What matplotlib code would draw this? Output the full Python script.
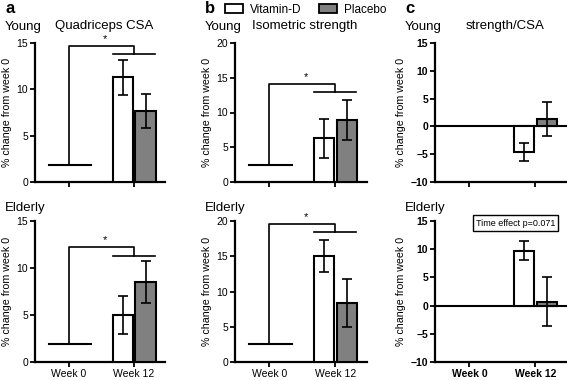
import matplotlib.pyplot as plt
from matplotlib.patches import Patch

plt.rcParams['font.family'] = ['Liberation Sans', 'DejaVu Sans']

# x positions: week 0 = 0, week 12 = 1
week_labels = ["Week 0", "Week 12"]
groups = ["Vitamin-D", "Placebo"]
row_names = ["Young", "Elderly"]
titles = ["Quadriceps CSA", "Isometric strength", "strength/CSA"]
letters = ["a", "b", "c"]

# % change from week 0 at week 12 (vitamin-D, placebo) and error bars
csa_young = [11.3, 7.7]
csa_young_err = [1.9, 1.85]
csa_old = [5.0, 8.5]
csa_old_err = [2.0, 2.2]
str_young = [6.3, 8.9]
str_young_err = [2.8, 2.9]
str_old = [15.0, 8.4]
str_old_err = [2.3, 3.4]
ratio_young = [-4.6, 1.4]
ratio_young_err = [1.65, 3.05]
ratio_old = [9.7, 0.7]
ratio_old_err = [1.7, 4.4]

# significance brackets: (week 0 level, top, lower bar)
brackets = {
    (0, 0): (1.8, 14.7, 13.8),
    (1, 0): (1.9, 12.2, 11.3),
    (0, 1): (2.5, 14.1, 13.0),
    (1, 1): (2.5, 19.6, 18.4),
}

values = [[csa_young, str_young, ratio_young], [csa_old, str_old, ratio_old]]
errors = [[csa_young_err, str_young_err, ratio_young_err],
          [csa_old_err, str_old_err, ratio_old_err]]
ylims = [(0, 15), (0, 20), (-10, 15)]
yticks = [[0, 5, 10, 15], [0, 5, 10, 15, 20], [-10, -5, 0, 5, 10, 15]]

W, H = 567, 380
fig = plt.figure(figsize=(W / 100, H / 100), dpi=100)

lefts = [35, 235, 435]
widths = [130, 132, 132]
rows_px = [(43, 182), (221, 362)]
name_base = [30, 211]   # baseline pixel of row label / title

bw = 0.31
offs = [-0.17, 0.18]
colors = ["white", "#808080"]

for r in range(2):
    top, bot = rows_px[r]
    hpx = bot - top
    for c in range(3):
        ax = fig.add_axes([lefts[c] / W, (H - bot) / H, widths[c] / W, hpx / H])
        v = values[r][c]
        e = errors[r][c]
        for k in range(2):
            ax.bar(1 + offs[k], v[k], width=bw, color=colors[k], edgecolor="black",
                   linewidth=1.5, zorder=3)
            ax.errorbar(1 + offs[k], v[k], yerr=e[k], color="black", capsize=3.5,
                        elinewidth=1.2, capthick=1.2, zorder=4)
        ax.set_xlim(-0.52, 1.48)
        ax.set_ylim(*ylims[c])
        ax.set_yticks(yticks[c])
        ax.set_xticks([0, 1])
        if r == 1:
            ax.set_xticklabels(week_labels, fontweight="bold" if c == 2 else "normal")
        else:
            ax.set_xticklabels([])
        for s in ["top", "right"]:
            ax.spines[s].set_visible(False)
        ax.spines["left"].set_linewidth(1.6)
        ax.spines["bottom"].set_linewidth(1.6)
        ax.tick_params(width=1.3, length=3.5, labelsize=7.5, pad=1.5)
        if c == 2:
            for t in ax.get_yticklabels():
                t.set_fontweight("bold")
            ax.axhline(0, color="black", lw=1.5, xmin=0, xmax=1.05, clip_on=False, zorder=2)
        ax.set_ylabel("% change from week 0", fontsize=7.7, labelpad=3)

        if (r, c) in brackets:
            lvl, ytop, ylow = brackets[(r, c)]
            ax.plot([-0.31, 0.34], [lvl, lvl], color="black", lw=1.5, clip_on=False)
            ax.plot([0, 0, 1, 1], [lvl, ytop, ytop, ylow], color="black", lw=1.2,
                    clip_on=False)
            ax.plot([0.68, 1.32], [ylow, ylow], color="black", lw=1.2, clip_on=False)
            ax.text(0.55, ytop + (ylims[c][1] - ylims[c][0]) * 0.015, "*", ha="center",
                    va="bottom", fontsize=8)

        yb = 1 + (top - name_base[r]) / hpx
        ax.text(-30 / widths[c], yb, row_names[r], transform=ax.transAxes,
                fontsize=9.5, ha="left", va="baseline")
        if r == 0:
            ax.text(0.53, 1 + (top - 29) / hpx, titles[c], transform=ax.transAxes,
                    fontsize=9.5, ha="center", va="baseline")
            ax.text(-30 / widths[c], 1 + (top - 13) / hpx, letters[c],
                    transform=ax.transAxes, fontsize=12, fontweight="bold",
                    ha="left", va="baseline")

        if (r, c) == (1, 2):
            ax.text(0.61, 1 - 2 / hpx, "Time effect p=0.071", transform=ax.transAxes,
                    fontsize=6.5, ha="center", va="center",
                    bbox=dict(boxstyle="square,pad=0.35", fc="white", ec="black", lw=1))

# legend at top of panel b
handles = [Patch(facecolor=colors[k], edgecolor="black", linewidth=1.3, label=groups[k])
           for k in range(2)]
fig.legend(handles=handles, loc="center left", bbox_to_anchor=(225 / W, 1 - 10 / H),
           ncol=2, frameon=False, fontsize=8.5, handlelength=1.5, handleheight=0.8,
           columnspacing=1.5, handletextpad=0.6, borderpad=0, borderaxespad=0)

plt.savefig("out.png", dpi=100)
